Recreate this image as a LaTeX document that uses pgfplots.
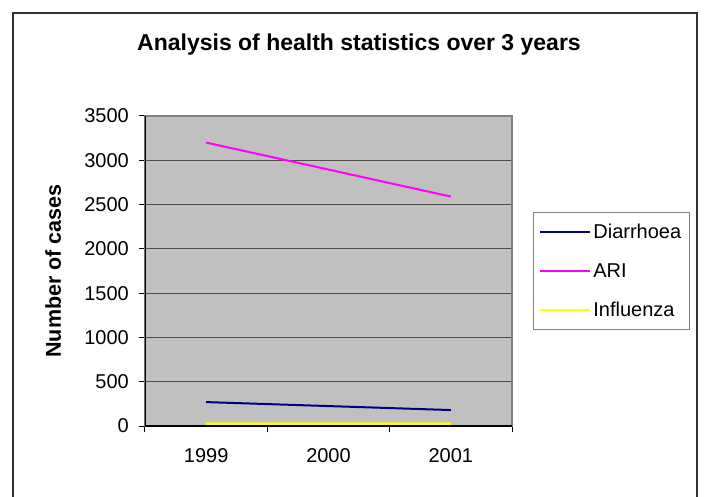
\documentclass[border=0pt]{standalone}
\usepackage{fontspec}
\setmainfont{Liberation Sans}
\usepackage{pgfplots}
\pgfplotsset{compat=1.18}
\definecolor{plotgray}{HTML}{C0C0C0}
\definecolor{framegray}{HTML}{808080}
\definecolor{diarrhoea}{HTML}{000080}
\definecolor{ari}{HTML}{FF00FF}
\definecolor{influenza}{HTML}{FFFF00}
\begin{document}
\begin{tikzpicture}[x=1pt,y=1pt]
\useasboundingbox (0,0) rectangle (707,496);
% chart area frame (bottom edge is off the page)
\draw[line width=1.2pt, black!80] (13,-5) -- (13,483) -- (697,483) -- (697,-5);
\node[anchor=base, font=\fontsize{23}{27}\selectfont\bfseries] at (359,445)
  {Analysis of health statistics over 3 years};
\begin{axis}[
    at={(145pt,70pt)}, anchor=south west,
    scale only axis, width=367pt, height=310pt,
    xmin=-0.5, xmax=2.5, ymin=0, ymax=3500,
    ytick={0,500,...,3500},
    xtick={0,1,2}, xticklabels={1999,2000,2001},
    minor xtick={-0.5,0.5,1.5,2.5},
    major x tick style={draw=none},
    tick align=outside, tick pos=left,
    major tick length=6pt, minor tick length=6pt,
    tick style={black, line width=1pt},
    ymajorgrids,
    major grid style={black!70, line width=1pt},
    axis background/.style={fill=plotgray},
    axis line style={framegray, line width=1.5pt},
    tick label style={font=\fontsize{20}{24}\selectfont},
    /pgf/number format/assume math mode=true,
    /pgf/number format/1000 sep={},
    yticklabel style={inner sep=0pt, xshift=-10pt},
    xticklabel style={inner sep=0pt, yshift=-16pt},
    ylabel={Number of cases},
    ylabel style={font=\fontsize{21.5}{26}\selectfont\bfseries,
      at={(axis description cs:-0.25,0.5)}, anchor=center},
    legend style={at={(1,0.5)}, anchor=west, xshift=21pt,
      draw=framegray, thick, fill=white,
      font=\fontsize{20}{24}\selectfont, row sep=19pt,
      inner xsep=6pt, inner ysep=10pt,
      nodes={inner sep=2pt}},
    legend cell align=left,
    legend image code/.code={\draw[#1] (0pt,0pt) -- (50pt,0pt);},
    legend image post style={line width=2pt},
]
\addplot[diarrhoea, line width=2pt] coordinates {(0,270) (1,225) (2,180)};
\addplot[ari, line width=2pt] coordinates {(0,3200) (1,2895) (2,2590)};
\addplot[influenza, line width=2.5pt] coordinates {(0,28) (1,27) (2,26)};
\legend{Diarrhoea, ARI, Influenza}
\draw[black, line width=1.5pt] (rel axis cs:0,1) -- (rel axis cs:0,0) -- (rel axis cs:1,0);
\end{axis}
\end{tikzpicture}
\end{document}
